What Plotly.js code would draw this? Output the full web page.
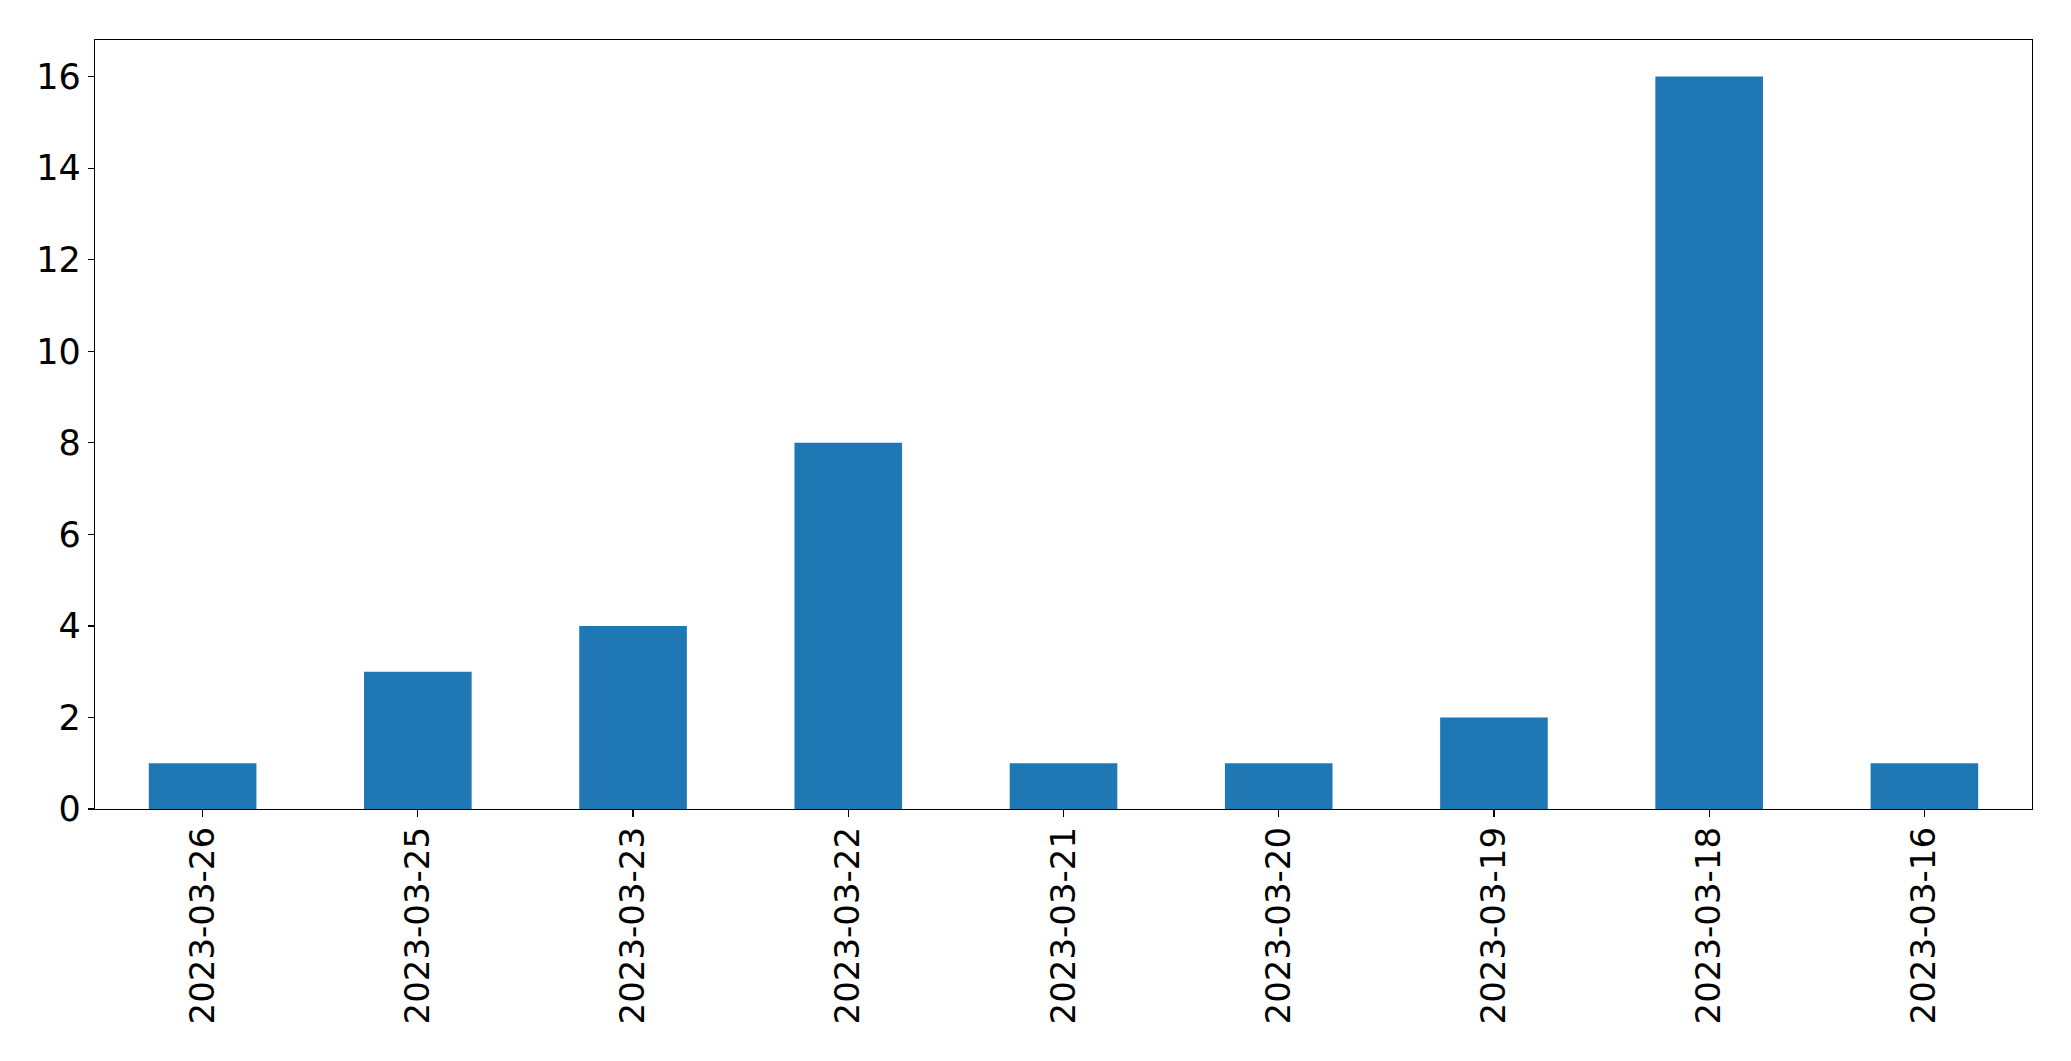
<!DOCTYPE html>
<html>
<head>
<meta charset="utf-8">
<script src="https://cdn.plot.ly/plotly-3.0.1.min.js"></script>
<style>html,body{margin:0;padding:0;background:#fff;}#chart{width:2071px;height:1061px;}</style>
</head>
<body>
<div id="chart"></div>
<script>
const categories = ["2023-03-26","2023-03-25","2023-03-23","2023-03-22","2023-03-21","2023-03-20","2023-03-19","2023-03-18","2023-03-16"];
const counts = [1, 3, 4, 8, 1, 1, 2, 16, 1];
const yTicks = [0, 2, 4, 6, 8, 10, 12, 14, 16];

const trace = {
  type: 'bar',
  x: categories,
  y: counts,
  width: 0.5,
  marker: {color: '#1f77b4', line: {width: 0}},
  hoverinfo: 'x+y'
};

const layout = {
  width: 2071,
  height: 1061,
  paper_bgcolor: '#fff',
  plot_bgcolor: '#fff',
  margin: {l: 94.5, r: 38.7, t: 39.5, b: 252, pad: 0},
  showlegend: false,
  font: {family: 'DejaVu Sans', size: 34, color: '#000'},
  xaxis: {
    type: 'category',
    range: [-0.5, 8.5],
    tickangle: -90,
    showline: true, linecolor: '#000', linewidth: 1.3, mirror: true,
    ticks: 'outside', ticklen: 7, tickwidth: 1.3, tickcolor: '#000',
    ticklabelstandoff: -4,
    showgrid: false, zeroline: false,
    tickfont: {family: 'DejaVu Sans', size: 34, color: '#000'},
    automargin: false
  },
  yaxis: {
    range: [0, 16.8],
    tickvals: yTicks,
    ticktext: yTicks.map(String),
    showline: true, linecolor: '#000', linewidth: 1.3, mirror: true,
    ticks: 'outside', ticklen: 6, tickwidth: 1.3, tickcolor: '#000',
    showgrid: false, zeroline: false,
    tickfont: {family: 'DejaVu Sans', size: 35, color: '#000'},
    automargin: false
  }
};

Plotly.newPlot('chart', [trace], layout, {displayModeBar: false, staticPlot: true});
</script>
</body>
</html>
